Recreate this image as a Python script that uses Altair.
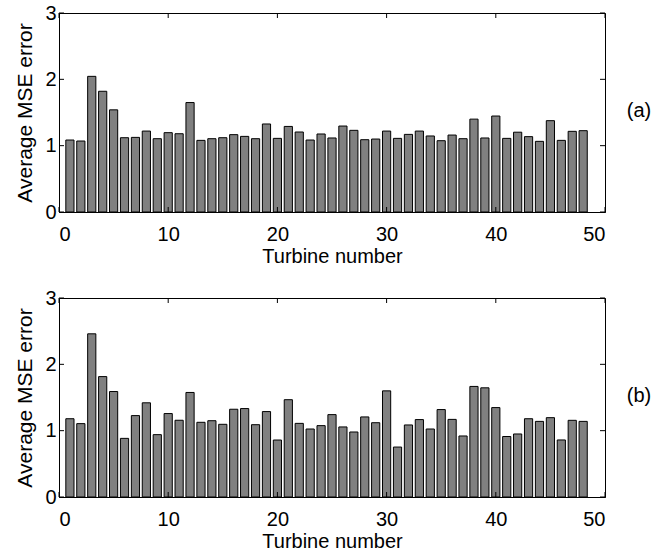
import altair as alt
import pandas as pd

# ---- data ----
TURBINES = list(range(1, 49))
MSE_A = [1.085, 1.07, 2.045, 1.82, 1.54, 1.12, 1.125, 1.22, 1.105, 1.196,
         1.18, 1.65, 1.08, 1.105, 1.12, 1.166, 1.14, 1.105, 1.327, 1.11,
         1.29, 1.206, 1.085, 1.176, 1.116, 1.296, 1.231, 1.09, 1.10, 1.22,
         1.11, 1.17, 1.22, 1.146, 1.075, 1.16, 1.105, 1.40, 1.116, 1.447,
         1.11, 1.203, 1.136, 1.065, 1.377, 1.08, 1.216, 1.226]
MSE_B = [1.18, 1.106, 2.46, 1.815, 1.59, 0.884, 1.227, 1.42, 0.94, 1.258,
         1.157, 1.576, 1.126, 1.15, 1.096, 1.323, 1.333, 1.09, 1.288, 0.859,
         1.467, 1.11, 1.025, 1.076, 1.242, 1.056, 0.98, 1.207, 1.12, 1.60,
         0.753, 1.086, 1.167, 1.025, 1.318, 1.17, 0.92, 1.667, 1.646, 1.348,
         0.912, 0.95, 1.18, 1.14, 1.196, 0.86, 1.156, 1.14]
X_TICKS = [0, 10, 20, 30, 40, 50]
Y_TICKS = [0, 1, 2, 3]
PANEL_LABELS = ["(a)", "(b)"]
X_TITLE = "Turbine number"
Y_TITLE = "Average MSE error"

W, H = 546, 199
FONT = "Liberation Sans"
FS = 20
HALF = 0.375
TICK = 5


def panel(values, label):
    df = pd.DataFrame({"turbine": TURBINES, "mse": values})
    xs = alt.Scale(domain=[0, 50], nice=False, zero=False)
    ys = alt.Scale(domain=[0, 3], nice=False)
    bars = alt.Chart(df).transform_calculate(
        x0=f"datum.turbine - {HALF}", x1=f"datum.turbine + {HALF}"
    ).mark_rect(fill="#808080", stroke="black", strokeWidth=1).encode(
        x=alt.X("x0:Q", scale=xs,
                axis=alt.Axis(values=X_TICKS, format="d", title=X_TITLE,
                              labelPadding=12, titlePadding=2)),
        x2="x1:Q",
        y=alt.Y("mse:Q", scale=ys,
                axis=alt.Axis(values=Y_TICKS, format="d", title=Y_TITLE,
                              labelPadding=3, titlePadding=9,
                              titleFontSize=21)),
        y2=alt.datum(0),
    )
    ydf = pd.DataFrame({"v": Y_TICKS})
    xdf = pd.DataFrame({"v": X_TICKS})
    yl = alt.Chart(ydf).mark_rule(color="black").encode(
        y=alt.Y("v:Q", scale=ys), x=alt.value(0), x2=alt.value(TICK))
    yr = alt.Chart(ydf).mark_rule(color="black").encode(
        y=alt.Y("v:Q", scale=ys), x=alt.value(W - TICK), x2=alt.value(W))
    xb = alt.Chart(xdf).mark_rule(color="black").encode(
        x=alt.X("v:Q", scale=xs), y=alt.value(H), y2=alt.value(H - TICK))
    xt = alt.Chart(xdf).mark_rule(color="black").encode(
        x=alt.X("v:Q", scale=xs), y=alt.value(0), y2=alt.value(TICK))
    txt = alt.Chart(pd.DataFrame({"label": [label]})).mark_text(
        font=FONT, fontSize=FS, color="black", align="center", baseline="middle"
    ).encode(text="label:N", x=alt.value(W + 34), y=alt.value(H / 2 - 2))
    return alt.layer(bars, yl, yr, xb, xt, txt).properties(width=W, height=H)


chart = alt.vconcat(
    panel(MSE_A, PANEL_LABELS[0]),
    panel(MSE_B, PANEL_LABELS[1]),
    spacing=86,
    bounds="flush",
).properties(
    padding={"left": 14, "top": 2, "right": 0, "bottom": 0},
    background="white",
).configure_view(
    stroke="black", strokeWidth=1
).configure_axis(
    grid=False, ticks=False, domainColor="black", domainWidth=1,
    labelFont=FONT, labelFontSize=FS, labelColor="black",
    titleFont=FONT, titleFontSize=FS, titleColor="black",
    titleFontWeight="normal",
)

chart.save("out.html", embed_options={"renderer": "svg", "actions": False})
